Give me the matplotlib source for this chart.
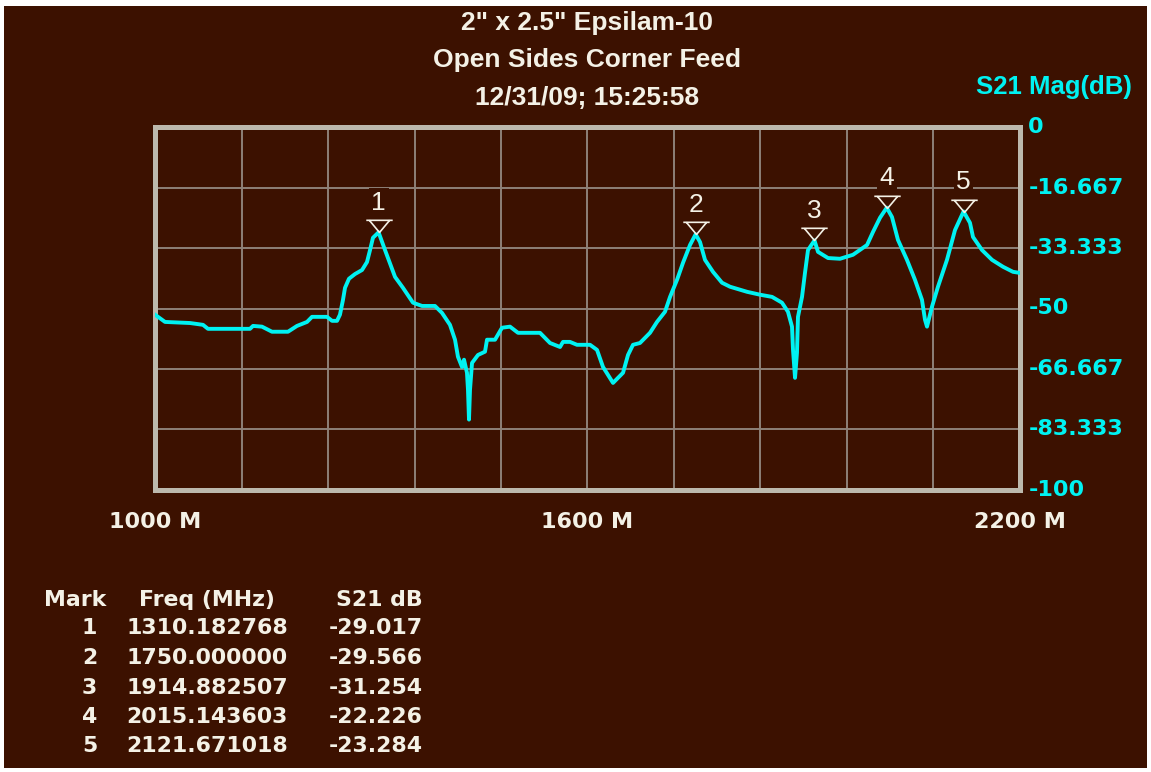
import numpy as np
import matplotlib
matplotlib.use('Agg')
import matplotlib.pyplot as plt
from matplotlib.path import Path
from matplotlib.patches import Rectangle

plt.rcParams['axes.unicode_minus'] = False

# S21 sweep, 1000-2200 MHz
freq_mhz = [1000.0, 1013.9, 1048.6, 1066.6, 1073.5, 1131.8, 1136.0, 1148.4, 1162.3, 1184.5,
            1197.0, 1210.9, 1217.8, 1238.6, 1245.6, 1252.5, 1256.6, 1260.8, 1263.6, 1269.1,
            1277.5, 1287.2, 1294.1, 1298.3, 1302.4, 1310.182768, 1319.1, 1333.0, 1344.0, 1357.9,
            1370.4, 1388.4, 1398.1, 1409.2, 1416.2, 1420.3, 1425.9, 1428.7, 1432.8, 1434.2,
            1435.6, 1437.0, 1439.8, 1448.1, 1457.8, 1460.6, 1471.7, 1481.4, 1492.5, 1503.6,
            1534.1, 1548.0, 1561.9, 1566.0, 1575.7, 1585.4, 1603.5, 1613.2, 1621.5, 1635.4,
            1649.3, 1656.2, 1663.1, 1672.8, 1686.7, 1696.4, 1707.5, 1714.5, 1724.2, 1732.5,
            1742.2, 1750.0, 1756.1, 1763.0, 1774.1, 1786.6, 1797.7, 1821.3, 1839.3, 1856.0,
            1869.8, 1878.1, 1883.7, 1885.1, 1887.9, 1890.6, 1892.0, 1897.6, 1901.7, 1905.9,
            1914.882507, 1919.8, 1933.7, 1950.3, 1968.3, 1987.8, 1996.1, 2005.8, 2015.143603, 2022.4,
            2030.7, 2043.2, 2054.3, 2064.0, 2068.2, 2071.0, 2077.9, 2086.2, 2098.7, 2109.8,
            2121.671018, 2130.6, 2134.8, 2147.3, 2161.2, 2176.4, 2190.3, 2200.0]
s21_db = [-51.7, -53.7, -54.0, -54.5, -55.6, -55.6, -54.8, -55.0, -56.4, -56.4,
          -54.8, -53.7, -52.3, -52.3, -53.4, -53.4, -51.7, -47.6, -44.3, -41.8,
          -40.5, -39.4, -37.2, -33.9, -30.5, -29.017, -33.9, -41.3, -44.3, -48.4,
          -49.3, -49.3, -51.2, -54.5, -58.6, -63.3, -66.1, -64.1, -67.7, -72.4,
          -80.6, -72.4, -65.0, -62.8, -61.9, -58.6, -58.6, -55.3, -55.0, -56.7,
          -56.7, -59.5, -60.6, -59.2, -59.2, -60.0, -60.0, -61.4, -66.1, -70.5,
          -67.7, -62.8, -60.0, -59.5, -56.7, -53.7, -50.9, -46.8, -42.1, -37.4,
          -32.5, -29.566, -31.7, -36.6, -39.9, -42.9, -44.0, -45.4, -46.2, -46.8,
          -48.4, -50.9, -55.0, -61.4, -69.1, -62.2, -52.3, -46.8, -40.2, -33.9,
          -31.254, -34.4, -36.1, -36.3, -35.2, -32.5, -28.9, -25.0, -22.226, -24.8,
          -31.1, -36.6, -42.1, -47.6, -53.1, -55.0, -49.5, -44.0, -36.6, -28.4,
          -23.284, -26.4, -30.3, -33.9, -36.6, -38.5, -39.9, -40.2]

# markers
mark_ids = [1, 2, 3, 4, 5]
mark_freq = [1310.182768, 1750.000000, 1914.882507, 2015.143603, 2121.671018]
mark_db = [-29.017, -29.566, -31.254, -22.226, -23.284]

y_ticks = [0, -16.667, -33.333, -50, -66.667, -83.333, -100]
y_labels = ['0', '-16.667', '-33.333', '-50', '-66.667', '-83.333', '-100']
x_grid = np.arange(1000, 2201, 120)
x_labels = {1000: '1000 M', 1600: '1600 M', 2200: '2200 M'}

title_lines = ['2" x 2.5" Epsilam-10', 'Open Sides Corner Feed', '12/31/09; 15:25:58']

BG = '#3c1100'
FRAME = '#bdb9ad'
GRID = '#8e8178'
TRACE = '#00f2f2'
TXT = '#f4f1e6'
SANS = ['Liberation Sans', 'DejaVu Sans']

W, H = 1151, 772
fig = plt.figure(figsize=(W / 100, H / 100), dpi=100, facecolor='white')
# brown panel with a thin white edge
fig.patches.append(Rectangle((4 / W, 4 / H), (W - 8) / W, (H - 10) / H,
                             transform=fig.transFigure, facecolor=BG, edgecolor='none',
                             zorder=-10))

ax = fig.add_axes([155 / W, 1 - 490 / H, 865 / W, 363 / H])
ax.set_facecolor(BG)
ax.set_xlim(1000, 2200)
ax.set_ylim(-100, 0)

for s in ax.spines.values():
    s.set_color(FRAME)
    s.set_linewidth(3.6)

ax.set_xticks(x_grid)
ax.set_xticklabels([x_labels.get(int(v), '') for v in x_grid])
ax.set_yticks(y_ticks)
ax.set_yticklabels(y_labels)
ax.grid(True, color=GRID, linewidth=1.4)
ax.set_axisbelow(True)

ax.yaxis.tick_right()
ax.tick_params(axis='y', length=0, pad=6, labelcolor=TRACE, labelsize=16)
ax.tick_params(axis='x', length=0, pad=16, labelcolor=TXT, labelsize=16)
for lab in ax.get_xticklabels() + ax.get_yticklabels():
    lab.set_fontweight('bold')
    lab.set_family('DejaVu Sans')
for lab in ax.get_yticklabels():
    lab.set_verticalalignment('center')

ax.plot(freq_mhz, s21_db, color=TRACE, linewidth=2.8, solid_joinstyle='round', zorder=3)

# marker glyph: bar on top of an open down-pointing triangle, tip at the point
tri = Path([(-13, 12), (13, 12), (-10, 12), (0, 0), (10, 12)],
           [Path.MOVETO, Path.LINETO, Path.MOVETO, Path.LINETO, Path.LINETO])
ax.plot(mark_freq, mark_db, linestyle='none', marker=tri, markersize=19,
        markeredgecolor=TXT, markerfacecolor='none', markeredgewidth=1.2, zorder=4)
for mid, f, d in zip(mark_ids, mark_freq, mark_db):
    ax.annotate(str(mid), (f, d), xytext=(0, 12.5), textcoords='offset points',
                ha='center', va='bottom', color=TXT, fontsize=19, family=SANS,
                bbox=dict(boxstyle='square,pad=0.1', facecolor=BG, edgecolor='none'),
                zorder=5)

# title block
for i, line in enumerate(title_lines):
    fig.text(587 / W, 1 - (23 + 37.5 * i) / H, line, ha='center', va='center',
             color=TXT, fontsize=19, fontweight='bold', family=SANS)

fig.text(1132 / W, 1 - 87 / H, 'S21 Mag(dB)', ha='right', va='center',
         color=TRACE, fontsize=18.5, fontweight='bold', family=SANS)

# marker table
row_y = [600, 628, 658, 688, 717, 746]
tkw = dict(color=TXT, fontsize=15.8, fontweight='bold', va='center', family='DejaVu Sans')
fig.text(44 / W, 1 - row_y[0] / H, 'Mark', ha='left', **tkw)
fig.text(207 / W, 1 - row_y[0] / H, 'Freq (MHz)', ha='center', **tkw)
fig.text(423 / W, 1 - row_y[0] / H, 'S21 dB', ha='right', **tkw)
for i, (mid, f, d) in enumerate(zip(mark_ids, mark_freq, mark_db)):
    y = 1 - row_y[i + 1] / H
    fig.text(97 / W, y, str(mid), ha='right', **tkw)
    fig.text(288 / W, y, f'{f:.6f}', ha='right', **tkw)
    fig.text(423 / W, y, f'{d:.3f}', ha='right', **tkw)

fig.savefig('out.png', dpi=100, facecolor=fig.get_facecolor())
